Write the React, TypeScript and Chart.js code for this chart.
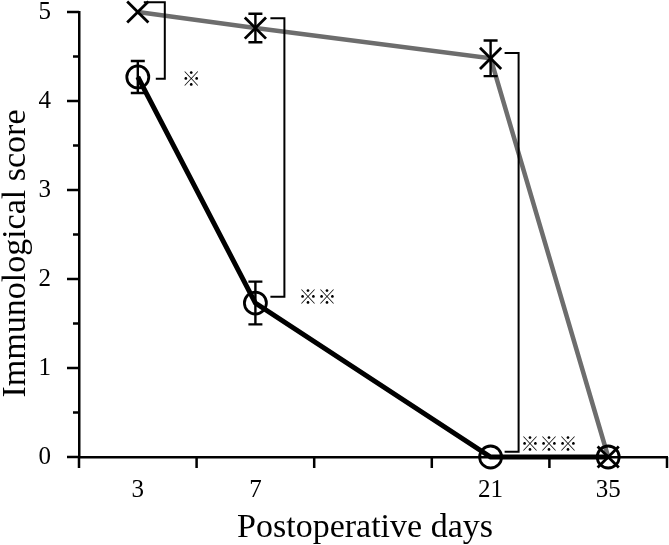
import React, { useEffect, useRef } from 'react';
import { Chart, registerables } from 'chart.js';

Chart.register(...registerables);

// ---- data ----
const categories = ['3', '7', '', '21', '35'];
const circleScores = [4.27, 1.73, null, 0, 0];
const circleErrors = [0.18, 0.24, null, 0, 0];
const crossScores = [5.0, 4.82, null, 4.48, 0];
const crossErrors = [0, 0.16, null, 0.2, 0];
const yMajorTicks = [0, 1, 2, 3, 4, 5];
const yMinorTicks = [0.5, 1.5, 2.5, 3.5, 4.5];
const bracketIndex = [0, 1, 3];
const bracketTop = [5.11, 4.93, 4.54];
const bracketBottom = [4.25, 1.8, 0.06];
const bracketMarks = ['※', '※※', '※※※'];
const xTitle = 'Postoperative days';
const yTitle = 'Immunological score';

// ---- layout constants (not data) ----
const bracketGap = [27, 29, 28];
const bracketTopArm = [21, 14, 14];
const bracketBottomArm = [9, 14, 14];
const markDx = [17, 14, 2];
const markDy = [0, 0, -8];

const SERIF = '"Liberation Serif", "Times New Roman", serif';

const overlayPlugin = {
  id: 'overlay',
  beforeDatasetsDraw(chart: any) {
    const { ctx, scales } = chart;
    const x = scales.x;
    const y = scales.y;
    ctx.save();
    ctx.strokeStyle = '#000';
    ctx.lineWidth = 2.5;
    ctx.beginPath();
    yMajorTicks.forEach((v) => {
      const py = y.getPixelForValue(v);
      ctx.moveTo(x.left - 12, py);
      ctx.lineTo(x.left, py);
    });
    yMinorTicks.forEach((v) => {
      const py = y.getPixelForValue(v);
      ctx.moveTo(x.left - 6, py);
      ctx.lineTo(x.left, py);
    });
    const slot = (x.right - x.left) / categories.length;
    for (let i = 0; i <= categories.length; i++) {
      const px = x.left + i * slot;
      ctx.moveTo(px, y.bottom);
      ctx.lineTo(px, y.bottom + 11);
    }
    ctx.stroke();
    ctx.restore();
  },
  afterDatasetsDraw(chart: any) {
    const { ctx, scales } = chart;
    const x = scales.x;
    const y = scales.y;
    ctx.save();
    ctx.strokeStyle = '#000';
    ctx.lineWidth = 2.4;
    const drawErr = (vals: (number | null)[], errs: (number | null)[]) => {
      vals.forEach((v, i) => {
        const e = errs[i];
        if (v == null || !e) return;
        const px = x.getPixelForValue(i);
        const t = y.getPixelForValue(v + e);
        const b = y.getPixelForValue(v - e);
        ctx.beginPath();
        ctx.moveTo(px, t);
        ctx.lineTo(px, b);
        ctx.moveTo(px - 7, t);
        ctx.lineTo(px + 7, t);
        ctx.moveTo(px - 7, b);
        ctx.lineTo(px + 7, b);
        ctx.stroke();
      });
    };
    drawErr(circleScores, circleErrors);
    drawErr(crossScores, crossErrors);

    ctx.lineWidth = 2;
    bracketIndex.forEach((idx, k) => {
      const cx = x.getPixelForValue(idx);
      const vx = cx + bracketGap[k];
      const ty = y.getPixelForValue(bracketTop[k]);
      const by = y.getPixelForValue(bracketBottom[k]);
      ctx.beginPath();
      ctx.moveTo(vx - bracketTopArm[k], ty);
      ctx.lineTo(vx, ty);
      ctx.lineTo(vx, by);
      ctx.lineTo(vx - bracketBottomArm[k], by);
      ctx.stroke();
      ctx.fillStyle = '#000';
      ctx.font = '19px "Noto Sans CJK JP", "DejaVu Sans", sans-serif';
      ctx.textAlign = 'left';
      ctx.textBaseline = 'middle';
      ctx.fillText(bracketMarks[k], vx + markDx[k], by + markDy[k]);
    });
    ctx.restore();
  },
  afterDraw(chart: any) {
    const { ctx, scales } = chart;
    const x = scales.x;
    const y = scales.y;
    ctx.save();
    ctx.fillStyle = '#000';
    ctx.font = `34px ${SERIF}`;
    ctx.textAlign = 'center';
    ctx.textBaseline = 'alphabetic';
    ctx.fillText(xTitle, (x.left + x.right) / 2 - 8, 537);
    ctx.translate(25, (y.top + y.bottom) / 2 + 19);
    ctx.rotate(-Math.PI / 2);
    ctx.fillText(yTitle, 0, 0);
    ctx.restore();
  },
};

export default function App() {
  const ref = useRef<HTMLCanvasElement | null>(null);
  useEffect(() => {
    document.body.style.margin = '0';
    document.body.style.overflow = 'hidden';
    const canvas = ref.current!;
    const chart = new Chart(canvas, {
      type: 'line',
      data: {
        labels: categories,
        datasets: [
          {
            label: 'Group A',
            data: circleScores,
            borderColor: '#000',
            borderWidth: 5,
            pointStyle: 'circle',
            pointRadius: 11,
            pointBorderWidth: 2.8,
            pointBorderColor: '#000',
            pointBackgroundColor: 'rgba(0,0,0,0)',
            spanGaps: true,
            clip: false,
            tension: 0,
          },
          {
            label: 'Group B',
            data: crossScores,
            borderColor: '#6d6d6d',
            borderWidth: 4.5,
            pointStyle: 'crossRot',
            pointRadius: 15,
            pointBorderWidth: 2.8,
            pointBorderColor: '#000',
            pointBackgroundColor: 'rgba(0,0,0,0)',
            spanGaps: true,
            clip: false,
            tension: 0,
          },
        ],
      },
      options: {
        responsive: false,
        animation: false,
        events: [],
        layout: { autoPadding: false, padding: { top: 12, right: 2, left: 0, bottom: 0 } },
        plugins: {
          legend: { display: false },
          tooltip: { enabled: false },
          title: { display: false },
        },
        scales: {
          x: {
            type: 'category',
            offset: true,
            grid: { display: false },
            border: { display: true, color: '#000', width: 2.5 },
            ticks: {
              color: '#000',
              font: { family: SERIF, size: 25, lineHeight: 1 },
              padding: 13,
              maxRotation: 0,
              autoSkip: false,
            },
            afterFit: (s: any) => {
              s.height = 88;
              s.paddingLeft = 0;
              s.paddingRight = 0;
            },
          },
          y: {
            min: 0,
            max: 5,
            grid: { display: false },
            border: { display: true, color: '#000', width: 2.5 },
            ticks: {
              stepSize: 1,
              color: '#000',
              font: { family: SERIF, size: 25, lineHeight: 1 },
              padding: 20,
              callback: (v: any) => String(v),
            },
            afterFit: (s: any) => {
              s.width = 79;
              s.paddingTop = 0;
              s.paddingBottom = 0;
            },
          },
        },
      },
      plugins: [overlayPlugin],
    } as any);
    return () => chart.destroy();
  }, []);
  return <canvas ref={ref} width={669} height={545} style={{ display: 'block' }} />;
}
